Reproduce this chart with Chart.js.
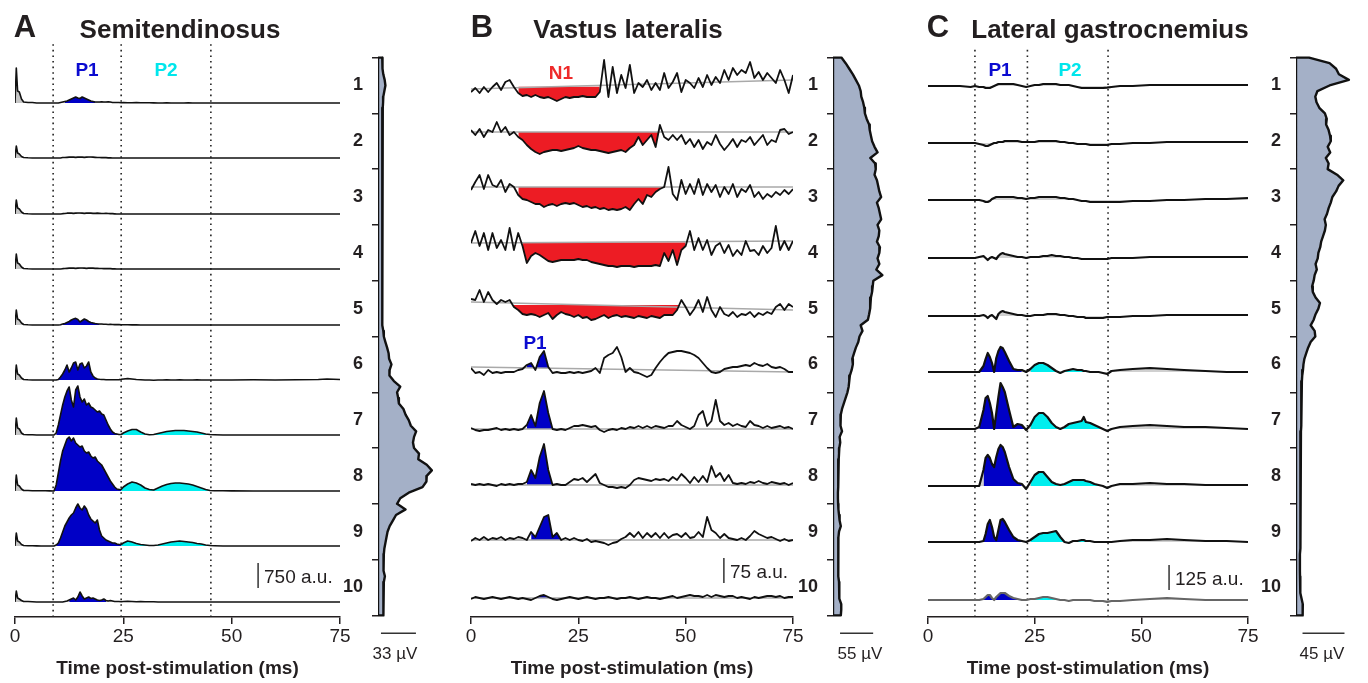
<!DOCTYPE html>
<html>
<head>
<meta charset="utf-8">
<script src="https://cdn.jsdelivr.net/npm/chart.js@4.4.0/dist/chart.umd.min.js"></script>
<style>
body { margin: 0; width: 1368px; height: 683px; background: #fff; position: relative; overflow: hidden;
       font-family: "Liberation Sans", Arial, sans-serif; color: #231f20; }
canvas { position: absolute; }
.t { position: absolute; white-space: nowrap; line-height: 1; transform: translate(-50%, -50%); }
.l { position: absolute; white-space: nowrap; line-height: 1; transform: translate(0, -50%); }
.b { font-weight: bold; }
</style>
</head>
<body>
<canvas id="trA" width="355" height="643" style="left:0px;top:40px"></canvas>
<canvas id="trB" width="352" height="643" style="left:456px;top:40px"></canvas>
<canvas id="trC" width="350" height="643" style="left:913px;top:40px"></canvas>
<canvas id="prA" width="102" height="608" style="left:338px;top:52px"></canvas>
<canvas id="prB" width="102" height="608" style="left:793px;top:52px"></canvas>
<canvas id="prC" width="102" height="608" style="left:1256px;top:52px"></canvas>

<div class="t b" style="left:25px;top:26px;font-size:31px">A</div>
<div class="t b" style="left:180px;top:29px;font-size:26px">Semitendinosus</div>
<div class="t b" style="left:482px;top:26px;font-size:31px">B</div>
<div class="t b" style="left:628px;top:29px;font-size:26px">Vastus lateralis</div>
<div class="t b" style="left:938px;top:26px;font-size:31px">C</div>
<div class="t b" style="left:1110px;top:29px;font-size:26px">Lateral gastrocnemius</div>

<div class="t b" style="left:87px;top:69px;font-size:19px;color:#0b0bd0">P1</div>
<div class="t b" style="left:166px;top:69px;font-size:19px;color:#00e6ec">P2</div>
<div class="t b" style="left:561px;top:72px;font-size:19px;color:#ee2a2a">N1</div>
<div class="t b" style="left:535px;top:342px;font-size:19px;color:#0b0bd0">P1</div>
<div class="t b" style="left:1000px;top:69px;font-size:19px;color:#0b0bd0">P1</div>
<div class="t b" style="left:1070px;top:69px;font-size:19px;color:#00e6ec">P2</div>

<div class="l" style="left:264px;top:576px;font-size:19px">750 a.u.</div>
<div class="l" style="left:730px;top:571px;font-size:19px">75 a.u.</div>
<div class="l" style="left:1175px;top:578px;font-size:19px">125 a.u.</div>
<div class="t" style="left:395px;top:653px;font-size:17px">33 µV</div>
<div class="t" style="left:860px;top:653px;font-size:17px">55 µV</div>
<div class="t" style="left:1322px;top:653px;font-size:17px">45 µV</div>

<script>
// ---- data ----
const timeTicks = [0, 25, 50, 75];
const rowNumbers = [1, 2, 3, 4, 5, 6, 7, 8, 9, 10];

// Semitendinosus (a.u.)
const timeA = [0,0.3,0.6,1,1.5,2,3,4,5,6,7,8,9,9.5,10,10.5,11,11.5,12,12.5,13,13.5,14,14.5,15,15.5,16,16.5,17,17.5,18,18.5,19,19.5,20,20.5,21,21.5,22,22.5,23,23.5,24,24.5,25,26,27,28,29,30,31,32,33,34,35,36,37,38,39,40,41,42,43,44,45,46,48,50,55,60,65,70,72,75];
const semitendinosus = [
  [0,1050,360,330,120,30, 15,15,0,0,0,0,0, 0,0,15,30,45,60,90,120,150,180,150,135,180,150,120,90,60,45,30,30,30,36,30,30,39,30,15,15,15,15,9,15, 9,6,15,9,6,6,3,0,0,9,0,0,0,0,9,0,0,0,0,0,0, 0,0,0,0,0,0,0,0],
  [0,360,150,120,45,15, 6,0,0,0,0,0,0, 0,0,0,15,15,20,25,30,25,20,25,30,25,20,25,30,30,25,20,15,15,10,10,10,5,5,0,0,0,0,0,0, 0,0,0,0,0,0,0,0,0,0,0,0,0,0,0,0,0,0,0,0,0, 0,0,0,0,0,0,0,0],
  [0,420,180,150,60,15, 6,0,0,0,0,0,0, 0,0,0,10,15,25,30,25,20,25,30,30,25,20,25,30,25,20,20,25,20,15,15,20,15,10,10,5,0,0,0,0, 0,0,0,0,0,0,0,0,0,0,0,0,0,0,0,0,0,0,0,0,0, 0,0,0,0,0,0,0,0],
  [0,450,180,150,60,15, 6,0,0,0,0,0,0, 0,0,0,10,15,20,25,30,25,20,25,30,30,25,20,25,30,25,20,20,15,15,10,10,15,10,5,5,0,0,0,0, 0,0,0,0,0,0,0,0,0,0,0,0,0,0,0,0,0,0,0,0,0, 0,0,0,0,0,0,0,0],
  [0,450,180,150,60,15, 6,0,0,0,0,0,0, 0,0,9,30,45,75,105,150,180,200,165,90,135,180,150,105,75,60,45,36,30,30,24,21,15,21,15,12,15,12,9,9, 6,3,3,0,0,0,0,0,0,0,0,0,0,0,0,0,0,0,0,0,0, 0,0,0,0,0,0,0,0],
  [0,450,180,150,60,15, 6,0,0,0,0,0,0, 0,15,90,180,300,450,240,360,510,540,300,480,510,360,420,540,240,120,60,30,21,15,15,9,9,9,6,6,9,12,20,30, 45,30,15,9,0,0,-6,0,0,6,0,0,6,0,0,0,6,0,0,0,0, 0,0,6,0,6,15,30,15],
  [0,510,210,180,60,15, 9,6,0,0,0,0,0, 60,300,600,900,1140,1320,1440,1050,840,1350,1470,1140,990,1080,900,960,840,810,750,690,720,630,600,450,300,180,90,45,30,15,15,60, 120,165,165,90,30,9,15,45,75,105,120,135,135,135,120,105,90,60,30,15,9, 0,0,0,0,0,0,0,0],
  [0,480,180,150,60,15, 15,9,6,6,6,3,0, 180,540,900,1200,1380,1560,1620,1500,1590,1440,1380,1320,1350,1200,1140,1170,1050,990,1020,900,840,780,660,540,420,300,210,120,60,45,45,120, 210,270,240,180,90,45,30,90,150,195,225,240,240,225,210,180,135,90,45,15,9, 6,3,0,0,0,0,0,0],
  [0,390,150,120,45,15, 9,6,3,0,0,0,0, 30,90,240,420,600,720,840,930,990,1140,1260,1140,1080,1200,1110,930,810,750,690,780,480,300,240,180,150,120,90,90,60,45,45,90, 150,120,75,45,30,15,15,30,60,90,120,135,150,135,120,105,75,60,30,15,9, 0,0,0,0,0,0,0,0],
  [0,330,120,90,45,15, 15,9,0,0,0,0,0, 0,0,0,0,15,30,60,90,120,60,150,300,180,90,120,150,105,120,90,60,45,60,90,45,30,45,30,15,15,15,9,15, 21,15,9,15,9,6,9,0,0,0,0,0,0,0,0,0,0,0,0,0,0, 0,0,0,0,0,0,0,0]
];
const stP1 = [[11.5,18.5], null, null, null, [11,19.5], [10,19.5], [9.5,24.5], [9,24.5], [9.5,24.5], [12.5,21]];
const stP2 = [null, null, null, null, null, null, [24.5,45], [24.5,45], [24.5,45], null];
const stMarks = [8.8, 24.5, 45.2];

// Vastus lateralis (a.u.)
const timeB = [0,1,2,3,4,5,6,7,8,9,10,11,12,13,14,15,16,17,18,19,20,21,22,23,24,25,26,27,28,29,30,31,32,33,34,35,36,37,38,39,40,41,42,43,44,45,46,47,48,49,50,51,52,53,54,55,56,57,58,59,60,61,62,63,64,65,66,67,68,69,70,71,72,73,74,75];
const vastusLateralis = [
  [-21,-9,-24,-6,-21,-6,6,-15,9,15, -6,-24,-33,-30,-36,-30,-36,-39,-36,-42, -48,-42,-36,-39,-36,-36,-33,-36,-36,-36, -21,75,-36,54,-24,30,-9,60,-24,6, -6,15,-15,6,-15,36,-9,9,36,-21, 15,6,-9,21,-6,30,0,24,6,45, 15,51,30,45,36,69,21,39,15,36, 21,6,45,15,-24,30],
  [6,-9,9,-15,6,0,30,0,15,-9, 0,-15,-24,-39,-51,-60,-66,-60,-57,-54, -54,-57,-54,-51,-48,-42,-48,-51,-54,-54, -57,-60,-63,-60,-57,-54,-60,-48,-39,-15, -39,-24,-9,-45,21,-15,-24,-9,-24,-9, -36,-21,-45,-24,-51,-30,-39,-9,-36,-54, -39,-21,-45,-24,-30,-15,-39,-24,-9,-39, -24,-30,6,9,-6,0],
  [-9,15,36,-6,36,6,0,21,-15,9, 0,-24,-36,-39,-45,-51,-51,-60,-54,-51, -57,-51,-48,-51,-48,-54,-60,-57,-63,-60, -66,-63,-69,-66,-69,-66,-60,-69,-51,-36, -51,-24,-30,-15,-6,0,60,-21,-39,21, -21,9,-21,24,-24,9,-15,6,-30,0, -21,9,-30,-6,-15,6,-30,-15,-36,-21, -30,-15,-24,-9,-21,-6],
  [0,36,-9,30,-21,30,-15,9,-21,45, -21,30,-9,-60,-39,-30,-36,-45,-54,-57, -54,-51,-51,-51,-51,-48,-51,-51,-57,-60, -63,-66,-69,-69,-72,-69,-69,-69,-72,-69, -69,-69,-69,-66,-69,-30,-54,-21,-66,-21, -9,36,-21,15,-21,9,-36,-9,0,-30, -6,-39,-21,-36,6,-24,-21,-36,-9,-30, -15,51,-21,6,-21,6],
  [9,6,36,0,30,6,-6,6,0,6, -15,-24,-36,-39,-36,-39,-45,-39,-33,-51, -39,-30,-36,-39,-45,-39,-48,-45,-54,-51, -45,-39,-48,-42,-39,-45,-42,-45,-48,-42, -45,-48,-42,-45,-48,-39,-39,-39,-24,6, -15,-39,-21,6,-30,15,-24,-45,-15,-36, -42,-30,-45,-36,-39,-30,-45,-33,-39,-30, -36,-15,-6,-24,-6,-15],
  [6,-9,-6,-15,0,-9,-6,-9,-6,-6, -6,0,3,15,21,0,39,57,9,-9, -6,-9,-9,-6,-9,-6,-9,-6,-3,6, -9,36,45,51,69,39,-6,6,-6,-9, -15,-21,-15,6,24,39,51,54,57,57, 54,51,45,36,21,6,-6,-9,-6,3, 6,9,9,12,15,12,21,15,12,18, 9,6,9,3,-6,-6],
  [3,-3,-6,-3,-3,0,3,-3,0,-3, 0,-3,0,12,42,9,78,114,48,0, -3,0,-3,3,9,9,12,9,6,9, -3,-9,-3,0,-3,3,0,6,3,9, 3,9,3,9,6,3,9,9,24,12, 6,0,9,42,54,9,24,87,24,12, 18,9,15,9,6,24,12,9,3,9, 3,6,9,3,6,0],
  [3,0,3,0,3,0,-3,3,0,3, 0,3,3,9,45,21,84,123,45,0, 3,0,0,9,18,15,21,9,21,33, 6,0,-6,-6,-9,-6,-9,0,15,21, 18,15,12,18,15,18,12,24,15,33, 21,6,24,9,27,9,57,24,36,12, 30,6,3,6,3,9,6,12,6,3, 9,6,3,6,0,6],
  [-3,6,0,9,0,6,3,9,0,6, 3,9,6,0,24,9,39,69,75,9, 21,0,6,0,6,0,-3,3,-6,-3, -6,-9,-15,-9,-6,3,9,21,9,24, 6,21,9,21,6,21,6,15,18,9, 21,6,9,24,9,69,30,21,6,18, 6,3,0,6,0,12,27,18,12,6, 9,3,-3,3,-3,0],
  [-3,3,0,-3,0,3,0,-3,0,3, 0,-3,0,-3,-6,0,6,9,3,-3, -6,-3,0,3,0,-3,0,3,0,-3, 0,0,3,0,-3,0,0,3,0,-3, 0,3,0,0,-3,0,3,6,0,3, 6,9,6,6,3,9,3,9,6,3, 6,6,0,3,0,-3,3,0,3,6, 6,3,6,0,3,3]
];
const vlReference = [[-12,15],[0,0],[0,0],[0,6],[0,-24],[9,-6],[0,0],[0,0],[0,0],[0,0]];
const vlN1 = [[10.5,30], [10.5,44], [10.5,45], [12,50], [9,49], null, null, null, null, null];
const vlP1 = [null, null, null, null, null, [13,18.5], [13,19], [12.5,19], [13.5,21], [15,19]];

// Lateral gastrocnemius (a.u.)
const timeC = [0,2.5,5,7.5,10,11,12,13,13.5,14,14.5,15,15.5,16,16.5,17,17.5,18,19,20,21,22,23,24,25,26,27,28,29,30,31,32,33,34,35,36,36.5,37,38,39,40,41,42,43,45,48,52,56,60,65,70,75];
const lateralGastrocnemius = [
  [0,0,0,0,-5, 0,-5,-5, -10,-10,-10,-5,0,5,10,10,10,10, 10,10,5,0,-5,0,5,5,10,10,10,10,5,5,5,0,-5,-10, -10, -10,-10,-10,-10,-10,-8,-5, 0,0,5,5,5,5,5,5],
  [0,0,0,0,0, 0,-5,-10, -15,-15,-10,-5,0,0,5,5,5,10, 10,10,10,5,5,5,5,10,10,10,10,10,5,5,0,0,-5,-5, -5, -5,-10,-10,-10,-10,-10,-5, -5,0,0,5,5,5,5,5],
  [0,0,0,0,0, 0,0,-5, -10,-10,-5,5,10,15,15,15,15,15, 15,15,10,10,5,10,10,15,15,15,15,15,10,10,5,5,0,-5, -5, -5,-10,-10,-10,-10,-10,-10, -10,-5,-5,0,0,5,5,10],
  [0,0,0,0,0, 0,5,10, 0,-10,0,5,0,-5,10,20,25,20, 15,10,5,5,0,5,5,5,10,10,15,10,10,5,5,0,0,-5, -5, -5,-5,-5,-5,-5,-5,0, 0,0,5,5,5,5,5,5],
  [0,0,0,0,0, 0,0,5, 0,-10,0,5,-5,-15,10,20,25,20, 15,10,5,5,0,0,5,5,5,10,10,10,5,5,0,0,-5,-5, -5, -10,-10,-10,-10,-10,-5,-5, -5,0,0,5,5,5,5,5],
  [0,0,0,0,0, 0,0,30, 65,95,75,45,0,70,105,125,120,100, 55,15,10,10,0,15,35,45,45,35,20,5,-5,5,10,15,10,10, 5, 5,0,0,0,-5,-10,5, 10,15,20,15,10,5,0,0],
  [0,0,0,0,0, 0,10,95, 155,165,130,80,0,80,160,230,210,185, 95,10,25,20,-5,20,60,80,80,60,30,10,0,10,25,30,35,40, 60, 35,30,20,10,0,-10,0, 10,15,20,15,10,10,5,0],
  [0,0,0,0,0, 0,0,80, 140,155,140,110,95,145,185,205,195,170, 95,35,15,10,-15,20,55,70,70,45,20,10,5,10,20,30,30,30, 30, 25,20,10,5,0,-10,0, 10,10,15,10,10,5,5,5],
  [0,0,0,0,0, 0,0,5, 40,90,110,75,25,10,60,110,115,100, 60,25,10,5,0,10,25,40,45,45,50,55,25,0,-5,5,5,10, 10, 5,5,0,0,0,0,0, 5,10,10,15,10,5,5,0],
  [0,0,0,0,0, 0,0,5, 15,25,25,10,0,15,25,35,35,35, 20,10,5,0,0,5,5,10,15,15,10,5,0,0,-5,0,0,0, 0, 0,0,-5,-5,-5,-10,-5, -5,0,5,10,5,0,0,0]
];
const lgP1 = [null, null, null, null, null, [12,22.5], [12,23], [12.5,22.5], [13,22.5], [13,21]];
const lgP2 = [null, null, null, null, null, [23.5,37], [23.3,41], [23.5,41], [23.5,38], [24,30]];
const lgMarks = [11, 23.3, 42.2];

// depth profiles (µV), rows 0.5 .. 10.5
const depth = [0.5,0.6,0.7,0.8,0.9,1.0,1.1,1.2,1.3,1.4,1.5,1.6,1.7,1.8,1.9,2.0,2.1,2.2,2.3,2.4,2.5,2.6,2.7,2.8,2.9,3.0,3.1,3.2,3.3,3.4,3.5,3.6,3.7,3.8,3.9,4.0,4.1,4.2,4.3,4.4,4.5,4.6,4.7,4.8,4.9,5.0,5.1,5.2,5.3,5.4,5.5,5.6,5.7,5.8,5.9,6.0,6.1,6.2,6.3,6.4,6.5,6.6,6.7,6.8,6.9,7.0,7.1,7.2,7.3,7.4,7.5,7.6,7.7,7.8,7.9,8.0,8.1,8.2,8.3,8.4,8.5,8.6,8.7,8.8,8.9,9.0,9.1,9.2,9.3,9.4,9.5,9.6,9.7,9.8,9.9,10.0,10.1,10.2,10.3,10.4,10.5];
const profileST = [4,4,4.5,5,6.3,7,6,5,4.8,4.5, 4.4,4.3,4.2,4.1,4.1,4.1,4.1,4,4.1,4, 4,4.1,4,3.9,3.9,3.9,3.8,3.8,3.8,3.8, 3.8,3.8,3.8,3.8,3.8,3.9,3.9,3.9,4,4, 4,4.1,4.1,4.2,4.2,4.3,4.4,4.5,4.7,5, 5.5,7,8.6,10,10.5,12.7,11,10.8,15,21, 18,19,19.7,24,26,29,31,36,34,33, 34,38.7,38,46,50.8,46,45.7,42,29,21, 18,26,17,14,11,9,8,7,6,5.5, 5.4,5.2,5.1,6.5,5.5,5.1,5.1,5.1,5.1,5.1, 5.1];
const profileVL = [14,21,27,33,38,43,46,47,50,52, 53,56,60,61,63,65,69,74,62,70, 71,69,73,75,77,80,73,76,78,80, 74,77,76,73,78,77,74,77,72,82, 67,66,65,63,62,61.5,60,58,46,49, 44,42,38,35,32,33,31,28,27,26, 24,21,18,15,13,12,13,15,11,12, 10.5,10,9.5,9,9,8.5,8.5,8.5,8.2,8.2, 8.5,9,10,11,13,10,9,8.5,8.5,8.5, 8.5,9,9,9.5,10,10,10.5,11,13.7,13.7, 13];
const profileLG = [14,36,43,46,56.7,36,23,20.7,22,25, 31,33,32.3,35,36.5,37.3,34,36.7,32,35, 34,44,50.7,45.7,43,39,37.3,35,33.3,30.7, 32,31,29,27,26,24,23.3,21,22.3,20, 19,17.3,18,21,25.7,24,21,19,15.7,20, 20.7,15.7,13,11,9,8,7.5,6.7,6.3,6, 6,5.8,5.7,5.6,5.5,5.4,5.4,5.3,5.3,5.2, 5.2,5.1,5,5,4.9,4.9,4.8,4.8,4.7,4.7, 4.6,4.6,4.5,4.5,4.4,4.4,4.3,4.3,4.3,4.2, 4.2,4.2,4.2,4.3,4.4,4.5,5,6,7.3,7.3, 7];

// ---- drawing ----
const INK = '#231f20';
const FONT = '"Liberation Sans", Arial, sans-serif';
const NONE = 'rgba(0,0,0,0)';
const AXIS_Y = 617, TOP_Y = 40;

function tracePanel(canvasId, p) {
  const span = (AXIS_Y - TOP_Y) * p.auPerPx;
  const ds = [];
  p.rows.forEach((vals, i) => {
    const off = (AXIS_Y - p.baseY[i]) * p.auPerPx;
    const pts = [];
    p.time.forEach((t, k) => { if (vals[k] !== undefined) pts.push({x: t, y: vals[k] + off}); });
    ds.push({data: pts, borderColor: p.lineColor[i], borderWidth: p.lineWidth, order: 0});
    if (p.ref) {
      const r = p.ref[i];
      ds.push({data: [{x: 0, y: off + r[0]}, {x: 75, y: off + r[1]}], borderColor: '#a9a9a9', borderWidth: 1.3, order: 1});
    }
    if (p.shade) {
      ds.push({data: pts, borderWidth: 0, borderColor: NONE, fill: {target: {value: off}, above: p.shade, below: p.shade}, order: 4});
    }
    p.windows.forEach(w => {
      const win = w.ranges[i];
      if (!win) return;
      const sub = pts.filter(q => q.x >= win[0] && q.x <= win[1]);
      let level = off;
      if (p.ref) { const r = p.ref[i]; level += r[0] + (r[1] - r[0]) * (win[0] + win[1]) / 150; }
      ds.push({data: sub, borderWidth: 0, borderColor: NONE, order: 3,
        fill: {target: {value: level}, above: w.down ? NONE : w.color, below: w.down ? w.color : NONE}});
    });
  });
  (p.marks || []).forEach(m => {
    ds.push({data: [{x: m, y: 0}, {x: m, y: (AXIS_Y - p.dotTop) * p.auPerPx}], borderColor: '#222',
             borderWidth: 1.6, borderDash: [1.6, 4], order: 2});
  });
  ds.push({data: [{x: p.bar[0], y: p.bar[1]}, {x: p.bar[0], y: p.bar[1] + p.bar[2]}], borderColor: '#333', borderWidth: 1.5, order: 0});

  new Chart(document.getElementById(canvasId), {
    type: 'line',
    data: {datasets: ds},
    options: {
      responsive: false, animation: false, events: [],
      layout: {padding: {left: 15, right: 15, top: 0, bottom: 0}},
      elements: {point: {radius: 0}, line: {tension: 0, borderJoinStyle: 'round'}},
      plugins: {legend: {display: false}, tooltip: {enabled: false}},
      scales: {
        x: {
          type: 'linear', min: 0, max: 75,
          afterBuildTicks: s => { s.ticks = timeTicks.map(v => ({value: v})); },
          afterFit: s => { s.height = 66; },
          ticks: {font: {size: 19, family: FONT}, color: INK, padding: 1, maxRotation: 0},
          grid: {drawOnChartArea: false, tickLength: 7, color: INK, lineWidth: 1.5},
          border: {color: INK, width: 1.5},
          title: {display: true, text: 'Time post-stimulation (ms)', color: INK,
                  font: {size: 19, weight: 'bold', family: FONT}, padding: {top: 0, bottom: 3}}
        },
        y: {type: 'linear', display: false, min: 0, max: span}
      }
    }
  });
}

function profilePanel(canvasId, widths, xMax, bar) {
  const pts = [{x: 0, y: depth[0]}];
  depth.forEach((d, k) => pts.push({x: widths[k], y: d}));
  pts.push({x: 0, y: depth[depth.length - 1]}, {x: 0, y: depth[0]});
  new Chart(document.getElementById(canvasId), {
    type: 'scatter',
    data: {datasets: [
      {data: pts, showLine: true, fill: 'shape', backgroundColor: '#a4b0c7', borderColor: '#111', borderWidth: 2.4},
      {data: [{x: bar[0], y: 10.82}, {x: bar[1], y: 10.82}], showLine: true, borderColor: '#333', borderWidth: 1.5}
    ]},
    options: {
      responsive: false, animation: false, events: [],
      layout: {padding: 0},
      elements: {point: {radius: 0}, line: {tension: 0, borderJoinStyle: 'round'}},
      plugins: {legend: {display: false}, tooltip: {enabled: false}},
      scales: {
        x: {type: 'linear', display: false, min: 0, max: xMax},
        y: {
          type: 'linear', reverse: true, min: 0.4, max: 11.3,
          afterBuildTicks: s => { s.ticks = rowNumbers.map(v => ({value: v})); },
          afterFit: s => { s.width = 40; s.paddingTop = 0; s.paddingBottom = 0; },
          ticks: {font: {size: 18, weight: 'bold', family: FONT}, color: INK, padding: 9},
          grid: {offset: true, drawOnChartArea: false, tickLength: 6, color: INK, lineWidth: 1.5},
          border: {display: false}
        }
      }
    }
  });
}

const black10 = rowNumbers.map(() => '#111');

tracePanel('trA', {
  time: timeA, rows: semitendinosus, auPerPx: 30,
  baseY: [103, 158, 214, 269, 325, 380, 435, 491, 546, 602],
  lineColor: black10, lineWidth: 1.6, shade: 'rgba(150,150,150,0.55)',
  windows: [{ranges: stP1, color: '#0000c6'}, {ranges: stP2, color: '#00eeee'}],
  marks: stMarks, dotTop: 42, bar: [56.1, 870, 750]
});

tracePanel('trB', {
  time: timeB, rows: vastusLateralis, auPerPx: 3,
  baseY: [85, 132, 187, 243, 302, 370, 429, 485, 540, 598],
  lineColor: black10, lineWidth: 1.8, ref: vlReference,
  windows: [{ranges: vlN1, color: '#ed1c24', down: true}, {ranges: vlP1, color: '#0000c6'}],
  bar: [58.9, 102, 75]
});

tracePanel('trC', {
  time: timeC, rows: lateralGastrocnemius, auPerPx: 5,
  baseY: [86, 143, 200, 258, 316, 372, 429, 486, 542, 600],
  lineColor: ['#111','#111','#111','#111','#111','#111','#111','#111','#111','#666'], lineWidth: 2.2,
  shade: 'rgba(150,150,150,0.45)',
  windows: [{ranges: lgP1, color: '#0000c6'}, {ranges: lgP2, color: '#00eeee'}],
  marks: lgMarks, dotTop: 48, bar: [56.5, 135, 125]
});

profilePanel('prA', profileST, 58.5, [2.8, 35.8]);
profilePanel('prB', profileVL, 103, [11.7, 66.7]);
profilePanel('prC', profileLG, 66.5, [7, 52]);
</script>
</body>
</html>
